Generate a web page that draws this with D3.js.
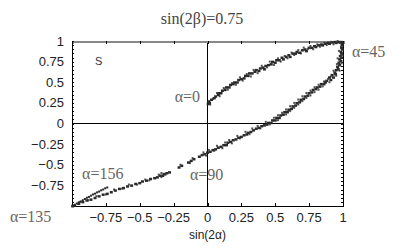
<!DOCTYPE html>
<html><head><meta charset="utf-8">
<script src="https://cdn.jsdelivr.net/npm/d3@7"></script>
<style>body{margin:0;background:#fff}svg{display:block}</style>
</head><body>
<script>
// ---- data ----
const xTickValues = [-0.75,-0.5,-0.25,0,0.25,0.5,0.75,1];
const xTickLabels = ["\u22120.75","\u22120.5","\u22120.25","0","0.25","0.5","0.75","1"];
const yTickValues = [1,0.75,0.5,0.25,0,-0.25,-0.5,-0.75];
const yTickLabels = ["1","0.75","0.5","0.25","0","\u22120.25","\u22120.5","\u22120.75"];
const titleText = "sin(2\u03B2)=0.75";
const xAxisTitle = "sin(2\u03B1)";
const panelLetter = "S";

// branch alpha 0 -> 45
const upperBranch = [
[0.005,0.24],[0.01,0.27],[0.015,0.25],[0.03,0.29],[0.05,0.31],[0.06,0.33],[0.08,0.35],[0.085,0.37],[0.1,0.37],[0.11,0.40],[0.13,0.41],[0.14,0.44],[0.16,0.44],[0.17,0.47],[0.19,0.48],[0.2,0.50],[0.22,0.50],[0.23,0.53],[0.25,0.54],[0.27,0.55],[0.28,0.58],[0.3,0.58],[0.31,0.61],[0.33,0.61],[0.35,0.63],[0.36,0.65],[0.38,0.64],[0.39,0.67],[0.41,0.68],[0.42,0.66],[0.43,0.70],[0.45,0.71],[0.47,0.72],[0.48,0.75],[0.5,0.74],[0.51,0.77],[0.53,0.77],[0.55,0.80],[0.56,0.78],[0.58,0.81],[0.6,0.83],[0.61,0.81],[0.63,0.85],[0.65,0.85],[0.66,0.87],[0.68,0.86],[0.7,0.89],[0.72,0.90],[0.73,0.88],[0.75,0.92],[0.77,0.92],[0.79,0.94],[0.8,0.93],[0.82,0.95],[0.84,0.96],[0.85,0.95],[0.87,0.97],[0.89,0.98],[0.9,0.97],[0.92,0.985],[0.94,0.99],[0.95,0.98],[0.97,0.99],[0.98,0.985],[0.99,0.99],[0.995,0.97]
];
const upperScatter = [
[0.02,0.23],[0.04,0.3],[0.07,0.37],[0.09,0.33],[0.12,0.43],[0.15,0.41],[0.18,0.49],[0.21,0.47],[0.24,0.56],[0.26,0.52],[0.29,0.6],[0.32,0.57],[0.34,0.65],[0.37,0.61],[0.4,0.7],[0.44,0.68],[0.46,0.75],[0.49,0.71],[0.52,0.79],[0.54,0.75],[0.57,0.82],[0.59,0.79],[0.62,0.86],[0.64,0.83],[0.67,0.89],[0.69,0.85],[0.71,0.92],[0.74,0.9],[0.76,0.94],[0.78,0.9],[0.81,0.96],[0.83,0.93],[0.86,0.98],[0.88,0.95],[0.91,0.99],[0.93,0.96],[0.96,1.0],[0.99,0.95]
];
// branch alpha 45 -> 135
const lowerBranch = [
[0.995,0.95],[0.99,0.92],[0.995,0.9],[0.985,0.87],[0.99,0.85],[0.98,0.82],[0.99,0.8],[0.975,0.78],[0.985,0.76],[0.97,0.74],[0.975,0.71],[0.96,0.69],[0.965,0.66],[0.95,0.65],[0.94,0.62],[0.945,0.6],[0.92,0.59],[0.93,0.56],[0.9,0.56],[0.91,0.53],[0.88,0.52],[0.87,0.5],[0.86,0.48],[0.84,0.48],[0.83,0.45],[0.81,0.44],[0.8,0.42],[0.78,0.41],[0.77,0.38],[0.75,0.37],[0.74,0.34],[0.72,0.33],[0.71,0.3],[0.69,0.29],[0.68,0.26],[0.66,0.25],[0.65,0.22],[0.63,0.21],[0.62,0.18],[0.6,0.17],[0.59,0.14],[0.57,0.14],[0.56,0.11],[0.54,0.1],[0.53,0.07],[0.51,0.07],[0.5,0.04],[0.48,0.04],[0.47,0.01],[0.45,0.01],[0.44,-0.01],[0.42,-0.02],
[0.4,-0.03],[0.38,-0.05],[0.36,-0.06],[0.34,-0.08],[0.32,-0.1],[0.3,-0.11],[0.29,-0.13],[0.27,-0.14],[0.25,-0.16],[0.23,-0.17],[0.21,-0.19],[0.19,-0.2],[0.17,-0.22],[0.15,-0.23],[0.14,-0.26],[0.12,-0.26],[0.1,-0.28],[0.08,-0.29],[0.06,-0.31],[0.04,-0.32],[0.02,-0.34],[0.0,-0.35],[-0.02,-0.37],[-0.04,-0.38],[-0.06,-0.4],
[-0.1,-0.43],[-0.12,-0.45],[-0.14,-0.47],
[-0.19,-0.51],[-0.21,-0.53],
[-0.28,-0.59],[-0.3,-0.6],[-0.32,-0.61],[-0.33,-0.63],[-0.35,-0.63],[-0.37,-0.65],[-0.39,-0.66],[-0.42,-0.67],[-0.45,-0.69],[-0.48,-0.7],[-0.5,-0.72],[-0.53,-0.73],[-0.56,-0.75],[-0.59,-0.76],[-0.62,-0.78],[-0.65,-0.79],[-0.68,-0.81],[-0.71,-0.83],[-0.74,-0.85],[-0.77,-0.86],[-0.8,-0.88],[-0.83,-0.9],[-0.86,-0.92],[-0.89,-0.93],[-0.92,-0.95],[-0.95,-0.97],[-0.98,-0.99],[-0.995,-1.0]
];
const lowerScatter = [
[0.985,0.93],[0.97,0.88],[0.995,0.83],[0.96,0.79],[0.99,0.73],[0.955,0.72],[0.975,0.64],[0.93,0.64],[0.95,0.58],[0.91,0.57],[0.89,0.54],[0.9,0.5],[0.86,0.51],[0.85,0.45],[0.82,0.47],[0.82,0.41],[0.79,0.44],[0.79,0.38],[0.76,0.4],[0.76,0.34],[0.73,0.37],[0.73,0.31],[0.7,0.33],[0.7,0.27],[0.67,0.29],[0.67,0.23],[0.64,0.25],[0.64,0.19],[0.61,0.21],[0.61,0.15],[0.58,0.17],[0.58,0.11],[0.55,0.13],[0.52,0.1],[0.52,0.04],[0.49,0.07],[0.46,-0.01],[0.43,0.02],[0.39,-0.06],[0.37,-0.03],[0.33,-0.06],[0.31,-0.13],[0.28,-0.1],[0.24,-0.18],[0.22,-0.15],[0.18,-0.24],[0.16,-0.2],[0.13,-0.23],[0.11,-0.3],[0.07,-0.27],[0.05,-0.33],[0.01,-0.32],[-0.01,-0.39],[-0.03,-0.35],[-0.11,-0.42],[-0.13,-0.48],[-0.2,-0.5],[-0.31,-0.62],[-0.34,-0.6],[-0.34,-0.65],[-0.36,-0.62],[-0.43,-0.69],[-0.46,-0.68],[-0.52,-0.74],[-0.58,-0.74],[-0.63,-0.79],[-0.69,-0.8],[-0.75,-0.86],[-0.82,-0.88],[-0.88,-0.93],[-0.94,-0.95]
];
// branch alpha 135 -> 156
const tailBranch = [
[-0.995,-0.995],[-0.98,-0.985],[-0.965,-0.97],[-0.95,-0.955],[-0.935,-0.945],[-0.92,-0.93],[-0.905,-0.915],[-0.89,-0.9],[-0.875,-0.89],[-0.86,-0.875],[-0.845,-0.86],[-0.83,-0.85],[-0.815,-0.835],[-0.8,-0.825],[-0.785,-0.81],[-0.77,-0.8],[-0.755,-0.785],[-0.74,-0.775]
];
const annotTexts = ["\u03B1=0","\u03B1=45","\u03B1=90","\u03B1=156","\u03B1=135"];
const annotX = [-0.055, 1.066, -0.13, -0.926, -1.458];
const annotY = [0.26, 0.806, -0.685, -0.67, -1.19];
const annotAnchor = ["end","start","start","start","start"];

// ---- drawing ----
const W = 409, H = 252;
const L = 72, R = 343, T = 41, B = 206;
const svg = d3.select("body").append("svg").attr("width", W).attr("height", H);
const x = d3.scaleLinear().domain([-1, 1]).range([L, R]);
const y = d3.scaleLinear().domain([-1, 1]).range([B, T]);

const serif = "'Liberation Serif','DejaVu Serif',serif";
const sans = "'Liberation Sans',Arial,sans-serif";

// annotations (drawn under lines)
svg.append("g").selectAll("text").data(annotTexts).join("text")
  .attr("x", (d,i) => x(annotX[i])).attr("y", (d,i) => y(annotY[i]))
  .attr("text-anchor", (d,i) => annotAnchor[i])
  .attr("font-family", serif).attr("font-size", 16).attr("fill", "#666")
  .text(d => d);

// zero lines
svg.append("line").attr("x1", x(-1)).attr("x2", x(1)).attr("y1", y(0)).attr("y2", y(0))
  .attr("stroke", "#000").attr("shape-rendering", "crispEdges");
svg.append("line").attr("x1", x(0)).attr("x2", x(0)).attr("y1", y(-1)).attr("y2", y(1))
  .attr("stroke", "#000").attr("shape-rendering", "crispEdges");

// frame and ticks via d3 axes
const gx = svg.append("g").attr("transform", `translate(0,${B})`)
  .call(d3.axisBottom(x).tickValues([-0.75,-0.5,-0.25,0,0.25,0.5,0.75]).tickSize(-3).tickFormat(""));
const gxt = svg.append("g").attr("transform", `translate(0,${T})`)
  .call(d3.axisTop(x).tickValues([-0.75,-0.5,-0.25,0,0.25,0.5,0.75]).tickSize(-3).tickFormat(""));
const minor = d3.range(-19, 20).map(i => i * 0.05);
const gyl = svg.append("g").attr("transform", `translate(${L},0)`)
  .call(d3.axisLeft(y).tickValues(minor).tickSize(-2).tickFormat(""));
const gyr = svg.append("g").attr("transform", `translate(${R},0)`)
  .call(d3.axisRight(y).tickValues(minor).tickSize(-2).tickFormat(""));
[gx,gxt,gyl,gyr].forEach(g => { g.selectAll("path,line").attr("stroke","#000").attr("shape-rendering","crispEdges"); });
gxt.select("path").attr("stroke", "#888").attr("stroke-width", 2);

// tick labels
svg.append("g").selectAll("text").data(xTickValues).join("text")
  .attr("x", d => x(d)).attr("y", 222).attr("text-anchor", "middle")
  .attr("font-family", sans).attr("font-size", 13).attr("fill", "#222")
  .text((d,i) => xTickLabels[i]);
svg.append("g").selectAll("text").data(yTickValues).join("text")
  .attr("x", 64).attr("y", d => y(d) + 4.5).attr("text-anchor", "end")
  .attr("font-family", sans).attr("font-size", 13).attr("fill", "#222")
  .text((d,i) => yTickLabels[i]);

// titles
svg.append("text").attr("x", 202).attr("y", 24).attr("text-anchor", "middle")
  .attr("font-family", serif).attr("font-size", 16).attr("fill", "#444").text(titleText);
svg.append("text").attr("x", x(0)).attr("y", 239).attr("text-anchor", "middle")
  .attr("font-family", sans).attr("font-size", 12).attr("fill", "#222").text(xAxisTitle);
svg.append("text").attr("x", x(-0.83)).attr("y", y(0.71)).attr("font-family", sans)
  .attr("font-size", 11).attr("fill", "#333").text(panelLetter);

// points
const pts = svg.append("g");
pts.selectAll("rect.s").data(upperScatter.concat(lowerScatter)).join("rect").attr("class","s")
  .attr("x", d => x(d[0]) - 1).attr("y", d => y(d[1]) - 1).attr("width", 2).attr("height", 2)
  .attr("fill", "#555");
pts.selectAll("rect.u").data(upperBranch).join("rect").attr("class","u")
  .attr("x", d => x(d[0]) - 1.5).attr("y", d => y(d[1]) - 1).attr("width", 3).attr("height", 2.5)
  .attr("fill", "#2a2a2a");
pts.selectAll("rect.l").data(lowerBranch).join("rect").attr("class","l")
  .attr("x", d => x(d[0]) - 1.5).attr("y", d => y(d[1]) - 1).attr("width", 3).attr("height", 2.5)
  .attr("fill", "#2a2a2a");
pts.selectAll("rect.t").data(tailBranch).join("rect").attr("class","t")
  .attr("x", d => x(d[0]) - 1).attr("y", d => y(d[1]) - 1).attr("width", 2).attr("height", 2)
  .attr("fill", "#2a2a2a");
</script>
</body></html>
